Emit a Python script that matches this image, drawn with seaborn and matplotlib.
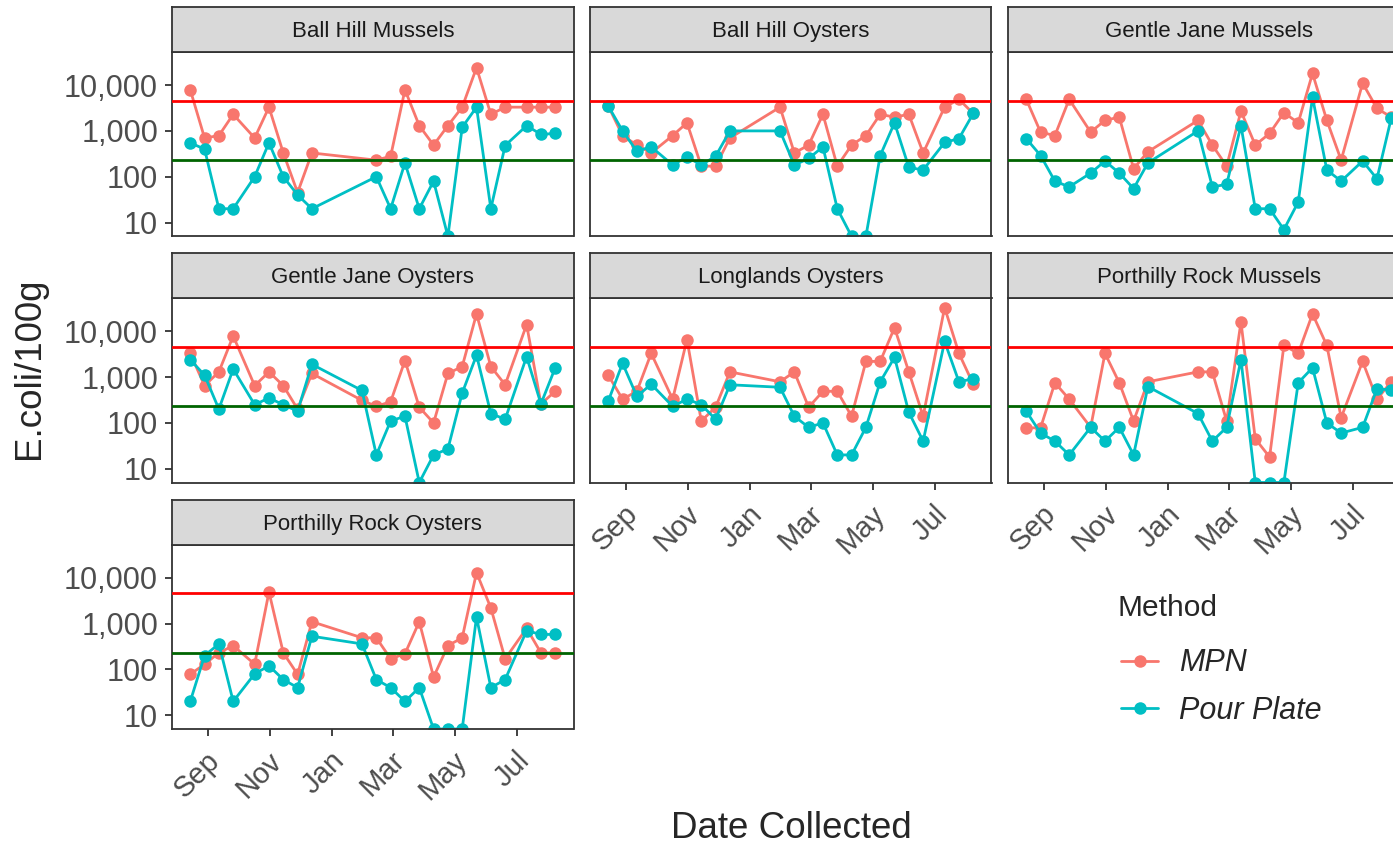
import numpy as np
import pandas as pd
import matplotlib
matplotlib.use("Agg")
import matplotlib.pyplot as plt
import matplotlib.dates as mdates
import matplotlib.transforms as mtransforms
from matplotlib.lines import Line2D
from matplotlib.ticker import FixedLocator, FixedFormatter, NullLocator
from matplotlib.font_manager import FontProperties
import seaborn as sns

# ---------------------------------------------------------------- data
sample_dates = [
    "2018-08-15", "2018-08-29", "2018-09-12", "2018-09-26", "2018-10-17",
    "2018-10-31", "2018-11-14", "2018-11-28", "2018-12-12", "2019-01-30",
    "2019-02-13", "2019-02-27", "2019-03-13", "2019-03-27", "2019-04-10",
    "2019-04-24", "2019-05-08", "2019-05-22", "2019-06-05", "2019-06-19",
    "2019-07-10", "2019-07-24", "2019-08-07",
]

sites = [
    "Ball Hill Mussels", "Ball Hill Oysters", "Gentle Jane Mussels",
    "Gentle Jane Oysters", "Longlands Oysters", "Porthilly Rock Mussels",
    "Porthilly Rock Oysters",
]

methods = ["MPN", "Pour Plate"]

# E. coli per 100 g, one value per sampling date (None = not sampled)
mpn_ball_hill_mussels = [7900, 700, 790, 2300, 700, 3300, 330, 45, 330, None, 230, 280,
                         7900, 1300, 490, 1300, 3300, 24000, 2300, 3300, 3300, 3300, 3300]
pp_ball_hill_mussels = [550, 400, 20, 20, 100, 550, 100, 40, 20, None, 100, 20,
                        200, 20, 80, 5, 1200, 3300, 20, 480, 1300, 840, 880]

mpn_ball_hill_oysters = [3500, 790, 490, 330, 790, 1500, 170, 170, 700, 3300, 330, 490,
                         2300, 170, 490, 790, 2300, 2000, 2300, 330, 3300, 4900, 2400]
pp_ball_hill_oysters = [3500, 1000, 360, 450, 180, 270, 180, 280, 1000, 1000, 180, 250,
                        450, 20, 5, 5, 290, 1500, 160, 140, 560, 680, 2400]

mpn_gentle_jane_mussels = [4900, 940, 790, 4900, 940, 1700, 2000, 150, 350, 1700, 490, 170,
                           2700, 490, 880, 2500, 1500, 18000, 1700, 230, 11000, 3100, 2000]
pp_gentle_jane_mussels = [680, 290, 80, 60, 120, 220, 120, 55, 200, 1000, 60, 68,
                          1300, 20, 20, 7, 28, 5400, 140, 80, 220, 90, 1900]

mpn_gentle_jane_oysters = [3300, 650, 1300, 7900, 650, 1300, 650, 200, 1200, 310, 230, 290,
                           2300, 220, 100, 1200, 1700, 24000, 1700, 680, 14000, 260, 490]
pp_gentle_jane_oysters = [2400, 1100, 200, 1500, 250, 350, 250, 180, 1900, 510, 20, 110,
                          140, 5, 20, 27, 450, 3000, 160, 120, 2800, 260, 1600]

mpn_longlands_oysters = [1100, 330, 490, 3300, 330, 6600, 110, 220, 1300, 790, 1300, 220,
                         490, 490, 140, 2200, 2200, 12000, 1300, 140, 33000, 3300, 700]
pp_longlands_oysters = [300, 2000, 380, 700, 230, 330, 250, 120, 680, 600, 140, 80,
                        100, 20, 20, 80, 790, 2700, 170, 40, 6000, 790, 920]

mpn_porthilly_rock_mussels = [78, 78, 750, 330, 80, 3300, 750, 110, 790, 1300, 1300, 110,
                              16000, 45, 18, 4900, 3300, 24000, 4900, 130, 2200, 330, 790]
pp_porthilly_rock_mussels = [180, 60, 40, 20, 80, 40, 80, 20, 620, 160, 40, 80,
                             2400, 5, 5, 5, 750, 1600, 100, 60, 80, 550, 530]

mpn_porthilly_rock_oysters = [78, 130, 230, 330, 130, 4900, 230, 78, 1100, 490, 490, 170,
                              220, 1100, 68, 330, 490, 13000, 2200, 170, 790, 230, 230]
pp_porthilly_rock_oysters = [20, 200, 360, 20, 80, 120, 60, 40, 530, 360, 60, 40,
                             20, 40, 5, 5, 5, 1400, 40, 60, 700, 580, 580]

class_b_limit = 4600
class_a_limit = 230

y_ticks = [10, 100, 1000, 10000]
y_tick_labels = ["10", "100", "1,000", "10,000"]
x_tick_months = ["2018-09-01", "2018-11-01", "2019-01-01", "2019-03-01", "2019-05-01", "2019-07-01"]
x_tick_labels = ["Sep", "Nov", "Jan", "Mar", "May", "Jul"]

series = {
    "Ball Hill Mussels": (mpn_ball_hill_mussels, pp_ball_hill_mussels),
    "Ball Hill Oysters": (mpn_ball_hill_oysters, pp_ball_hill_oysters),
    "Gentle Jane Mussels": (mpn_gentle_jane_mussels, pp_gentle_jane_mussels),
    "Gentle Jane Oysters": (mpn_gentle_jane_oysters, pp_gentle_jane_oysters),
    "Longlands Oysters": (mpn_longlands_oysters, pp_longlands_oysters),
    "Porthilly Rock Mussels": (mpn_porthilly_rock_mussels, pp_porthilly_rock_mussels),
    "Porthilly Rock Oysters": (mpn_porthilly_rock_oysters, pp_porthilly_rock_oysters),
}

rows = []
for site in sites:
    for method, values in zip(methods, series[site]):
        for d, v in zip(sample_dates, values):
            if v is not None:
                rows.append({"Site": site, "Date": pd.Timestamp(d), "Method": method, "Ecoli": v})
df = pd.DataFrame(rows)

# ---------------------------------------------------------------- style
sns.set_style("white")
plt.rcParams["font.family"] = ["Liberation Sans", "DejaVu Sans"]

palette = {"MPN": "#F8766D", "Pour Plate": "#00BFC4"}
border = "#333333"
tick_text = "#4D4D4D"

W, H = 1393, 848
fig = plt.figure(figsize=(W / 100, H / 100), dpi=100)


def box(x0, y0, w, h):
    return [x0 / W, 1 - (y0 + h) / H, w / W, h / H]


col_left = [172, 590, 1008]
row_top = [52.3, 298.5, 545]
panel_w = 401.5
panel_h = 184
strip_h = 45

d0 = mdates.date2num(pd.Timestamp(sample_dates[0]))
d1 = mdates.date2num(pd.Timestamp(sample_dates[-1]))
pad = 0.05 * (d1 - d0)
x_lim = (d0 - pad, d1 + pad)
x_tick_pos = [mdates.date2num(pd.Timestamp(t)) for t in x_tick_months]

bottom_panels = {"Longlands Oysters", "Porthilly Rock Mussels", "Porthilly Rock Oysters"}

for i, site in enumerate(sites):
    r, c = divmod(i, 3)
    x0, y0 = col_left[c], row_top[r]
    ax = fig.add_axes(box(x0, y0, panel_w, panel_h))
    sub = df[df["Site"] == site]
    sns.lineplot(data=sub, x="Date", y="Ecoli", hue="Method", hue_order=methods,
                 palette=palette, marker="o", markersize=9, markeredgewidth=0,
                 linewidth=2, ax=ax, legend=False, estimator=None)
    ax.axhline(class_b_limit, color="#FF0000", lw=2, zorder=3)
    ax.axhline(class_a_limit, color="#006400", lw=2, zorder=3)
    ax.set_yscale("log")
    ax.set_ylim(5, 52000)
    ax.set_xlim(*x_lim)
    ax.set_xlabel("")
    ax.set_ylabel("")
    for s in ax.spines.values():
        s.set_color(border)
        s.set_linewidth(1.3)
    ax.yaxis.set_major_locator(FixedLocator(y_ticks))
    ax.yaxis.set_major_formatter(FixedFormatter(y_tick_labels))
    ax.yaxis.set_minor_locator(NullLocator())
    ax.xaxis.set_major_locator(FixedLocator(x_tick_pos))
    ax.xaxis.set_major_formatter(FixedFormatter(x_tick_labels))
    ax.xaxis.set_minor_locator(NullLocator())
    ax.tick_params(axis="both", length=5, width=1.3, color=border, labelcolor=tick_text)
    ax.tick_params(axis="y", pad=5, labelsize=22)
    if c == 0:
        ax.tick_params(axis="y", left=True, labelleft=True)
    else:
        ax.tick_params(axis="y", left=False, labelleft=False)
    if site in bottom_panels:
        ax.tick_params(axis="x", bottom=True, labelbottom=True, pad=7.5, labelsize=21)
        offset = mtransforms.ScaledTranslation(-0.02, 0, fig.dpi_scale_trans)
        for lab in ax.get_xticklabels():
            lab.set_rotation(45)
            lab.set_ha("right")
            lab.set_va("top")
            lab.set_rotation_mode("anchor")
            lab.set_transform(lab.get_transform() + offset)
    else:
        ax.tick_params(axis="x", bottom=False, labelbottom=False)

    # facet strip
    sax = fig.add_axes(box(x0, y0 - strip_h, panel_w, strip_h))
    sax.set_facecolor("#D9D9D9")
    sax.set_xticks([])
    sax.set_yticks([])
    for s in sax.spines.values():
        s.set_color(border)
        s.set_linewidth(1.3)
    sax.text(0.5, 0.46, site, ha="center", va="center", fontsize=16,
             color="#1A1A1A", transform=sax.transAxes)

fig.text(791 / W, 1 - 828 / H, "Date Collected", ha="center", va="center", fontsize=26.5)
fig.text(30 / W, 1 - 368 / H, "E.coli/100g", ha="center", va="center",
         rotation=90, fontsize=26.5)

# legend for the measurement method
fig.text(1117 / W, 1 - 608 / H, "Method", ha="left", va="center", fontsize=21.5)
handles = [Line2D([0], [0], color=palette[m], marker="o", markersize=9,
                  markeredgewidth=0, lw=2) for m in methods]
fig.legend(handles, methods, loc="upper left",
           bbox_to_anchor=(1106 / W, 1 - 633 / H), frameon=False,
           prop=FontProperties(family="Liberation Sans", style="italic", size=22),
           handlelength=1.2, handletextpad=0.7, labelspacing=0.58, borderpad=0)

fig.savefig("out.png", dpi=100)
